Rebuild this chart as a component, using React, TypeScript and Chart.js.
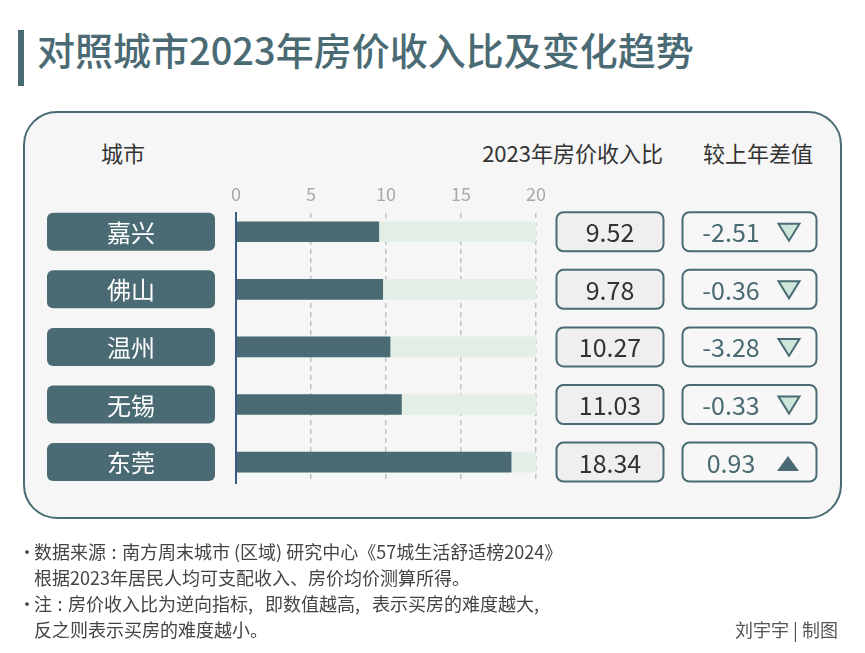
import React, { useEffect, useRef } from "react";
import { Chart, registerables } from "chart.js";

Chart.register(...registerables);

// ---- data ----
const cities = ["嘉兴", "佛山", "温州", "无锡", "东莞"];
const ratio2023 = [9.52, 9.78, 10.27, 11.03, 18.34];
const yoyChange = [-2.51, -0.36, -3.28, -0.33, 0.93];
const axisMax = 20;
const tickStep = 5;

const TEAL = "#4a6b73";
const FONT = '"Noto Sans CJK SC", "Noto Sans", sans-serif';

function rr(ctx: CanvasRenderingContext2D, x: number, y: number, w: number, h: number, r: number) {
  ctx.beginPath();
  ctx.moveTo(x + r, y);
  ctx.lineTo(x + w - r, y);
  ctx.arcTo(x + w, y, x + w, y + r, r);
  ctx.lineTo(x + w, y + h - r);
  ctx.arcTo(x + w, y + h, x + w - r, y + h, r);
  ctx.lineTo(x + r, y + h);
  ctx.arcTo(x, y + h, x, y + h - r, r);
  ctx.lineTo(x, y + r);
  ctx.arcTo(x, y, x + r, y, r);
  ctx.closePath();
}

const rowPlugin = {
  id: "rowBoxes",
  afterDraw(chart: any) {
    const ctx: CanvasRenderingContext2D = chart.ctx;
    const yScale = chart.scales.y;
    ctx.save();
    ctx.textAlign = "center";
    ctx.textBaseline = "middle";
    cities.forEach((city, i) => {
      const cy = yScale.getPixelForValue(i);
      // city label box
      rr(ctx, 47, cy - 19, 168, 38, 6);
      ctx.fillStyle = TEAL;
      ctx.fill();
      ctx.fillStyle = "#ffffff";
      ctx.font = `24px ${FONT}`;
      ctx.fillText(city, 131, cy + 1);
      // value box
      ctx.font = `25px ${FONT}`;
      rr(ctx, 556.5, cy - 19.5, 107, 39, 7);
      ctx.fillStyle = "#efefef";
      ctx.fill();
      ctx.lineWidth = 2;
      ctx.strokeStyle = TEAL;
      ctx.stroke();
      ctx.fillStyle = "#333333";
      ctx.fillText(ratio2023[i].toFixed(2), 610, cy + 1);
      // change box
      rr(ctx, 682.5, cy - 19.5, 134, 39, 7);
      ctx.fillStyle = "#f7f7f7";
      ctx.fill();
      ctx.stroke();
      ctx.fillStyle = TEAL;
      ctx.fillText(yoyChange[i].toFixed(2), 731, cy + 1);
      // triangle
      ctx.beginPath();
      if (yoyChange[i] < 0) {
        ctx.moveTo(778.5, cy - 8);
        ctx.lineTo(799.5, cy - 8);
        ctx.lineTo(789, cy + 9);
        ctx.closePath();
        ctx.fillStyle = "#cfe6da";
        ctx.fill();
        ctx.lineWidth = 2;
        ctx.strokeStyle = TEAL;
        ctx.stroke();
      } else {
        ctx.moveTo(788, cy - 6);
        ctx.lineTo(799, cy + 9);
        ctx.lineTo(777, cy + 9);
        ctx.closePath();
        ctx.fillStyle = TEAL;
        ctx.fill();
      }
    });
    ctx.restore();
  },
};

const W = 865;
const H = 653;

export default function App() {
  const ref = useRef<HTMLCanvasElement>(null);

  useEffect(() => {
    const canvas = ref.current;
    if (!canvas) return;
    const chart = new Chart(canvas, {
      type: "bar",
      data: {
        datasets: [
          {
            label: "满分",
            data: cities.map((_, i) => ({ x: axisMax, y: i })),
            backgroundColor: "#e2eee6",
            order: 2,
            grouped: false,
            barThickness: 20,
            borderWidth: 0,
          } as any,
          {
            label: "2023年房价收入比",
            data: ratio2023.map((v, i) => ({ x: v, y: i })),
            backgroundColor: TEAL,
            order: 1,
            grouped: false,
            barThickness: 20,
            borderWidth: 0,
          } as any,
        ],
      },
      options: {
        indexAxis: "y",
        responsive: false,
        animation: false,
        layout: { padding: { left: 236, right: W - 536, top: 213 - 30, bottom: H - 483 } },
        scales: {
          x: {
            type: "linear",
            position: "top",
            min: 0,
            max: axisMax,
            afterFit: (s: any) => {
              s.height = 30;
            },
            ticks: {
              stepSize: tickStep,
              color: "#a8a8a8",
              font: { family: FONT, size: 18 },
              padding: 8,
            },
            grid: {
              color: (c: any) => (c.tick && c.tick.value === 0 ? "rgba(0,0,0,0)" : "#c2c2c2"),
              lineWidth: 1.5,
              drawTicks: false,
            },
            border: { display: false, dash: [5, 4] },
          },
          y: {
            type: "linear",
            reverse: true,
            offset: false,
            bounds: "data",
            min: -0.325,
            max: 4.3625,
            afterFit: (s: any) => {
              s.width = 0;
            },
            ticks: { display: false },
            grid: { display: true, offset: false, drawOnChartArea: false, drawTicks: false },
            border: { display: true, color: "#3b5a88", width: 2, z: 1 },
          },
        },
        plugins: { legend: { display: false }, tooltip: { enabled: false } },
      } as any,
      plugins: [rowPlugin],
    });
    return () => chart.destroy();
  }, []);

  const footStyle: React.CSSProperties = {
    position: "absolute",
    left: 34,
    fontSize: 18,
    lineHeight: "26px",
    color: "#444",
    whiteSpace: "nowrap",
  };
  const dotStyle: React.CSSProperties = { ...footStyle, left: 18 };
  const colon = <span style={{ margin: "0 5.5px" }}>:</span>;
  const comma = <span style={{ marginRight: 12 }}>,</span>;

  return (
    <div
      style={{
        position: "absolute",
        left: 0,
        top: 0,
        width: W,
        height: H,
        background: "#ffffff",
        overflow: "hidden",
        fontFamily: FONT,
      }}
    >
      <div style={{ position: "absolute", left: 18, top: 30, width: 6, height: 56, background: TEAL }} />
      <div
        style={{
          position: "absolute",
          left: 37,
          top: 26,
          fontSize: 38,
          lineHeight: "46px",
          fontWeight: 500,
          color: TEAL,
          whiteSpace: "nowrap",
        }}
      >
        对照城市2023年房价收入比及变化趋势
      </div>
      <div
        style={{
          position: "absolute",
          left: 23,
          top: 111,
          width: 819,
          height: 408,
          boxSizing: "border-box",
          border: `2.5px solid ${TEAL}`,
          borderRadius: 34,
          background: "#f6f6f6",
        }}
      />
      <div style={{ position: "absolute", left: 101, top: 138, fontSize: 22, lineHeight: "28px", color: "#333" }}>城市</div>
      <div
        style={{
          position: "absolute",
          right: W - 663,
          top: 138,
          fontSize: 22,
          lineHeight: "28px",
          color: "#333",
          whiteSpace: "nowrap",
        }}
      >
        2023年房价收入比
      </div>
      <div style={{ position: "absolute", left: 703, top: 138, fontSize: 22, lineHeight: "28px", color: "#333", whiteSpace: "nowrap" }}>
        较上年差值
      </div>
      <canvas
        ref={ref}
        width={W}
        height={H}
        style={{ position: "absolute", left: 0, top: 0, width: W, height: H }}
      />
      <div style={{ ...dotStyle, top: 538 }}>·</div>
      <div style={{ ...footStyle, top: 538 }}>
        数据来源{colon}南方周末城市<span style={{ marginLeft: 4 }}>(</span>区域<span style={{ marginRight: 4 }}>)</span>研究中心《57城生活舒适榜2024》
      </div>
      <div style={{ ...footStyle, top: 564 }}>根据2023年居民人均可支配收入、房价均价测算所得。</div>
      <div style={{ ...dotStyle, top: 590 }}>·</div>
      <div style={{ ...footStyle, top: 590 }}>
        注{colon}房价收入比为逆向指标{comma}即数值越高{comma}表示买房的难度越大{comma}
      </div>
      <div style={{ ...footStyle, top: 616 }}>反之则表示买房的难度越小。</div>
      <div style={{ ...footStyle, left: 735, top: 616, color: "#555" }}>刘宇宇 | 制图</div>
    </div>
  );
}
